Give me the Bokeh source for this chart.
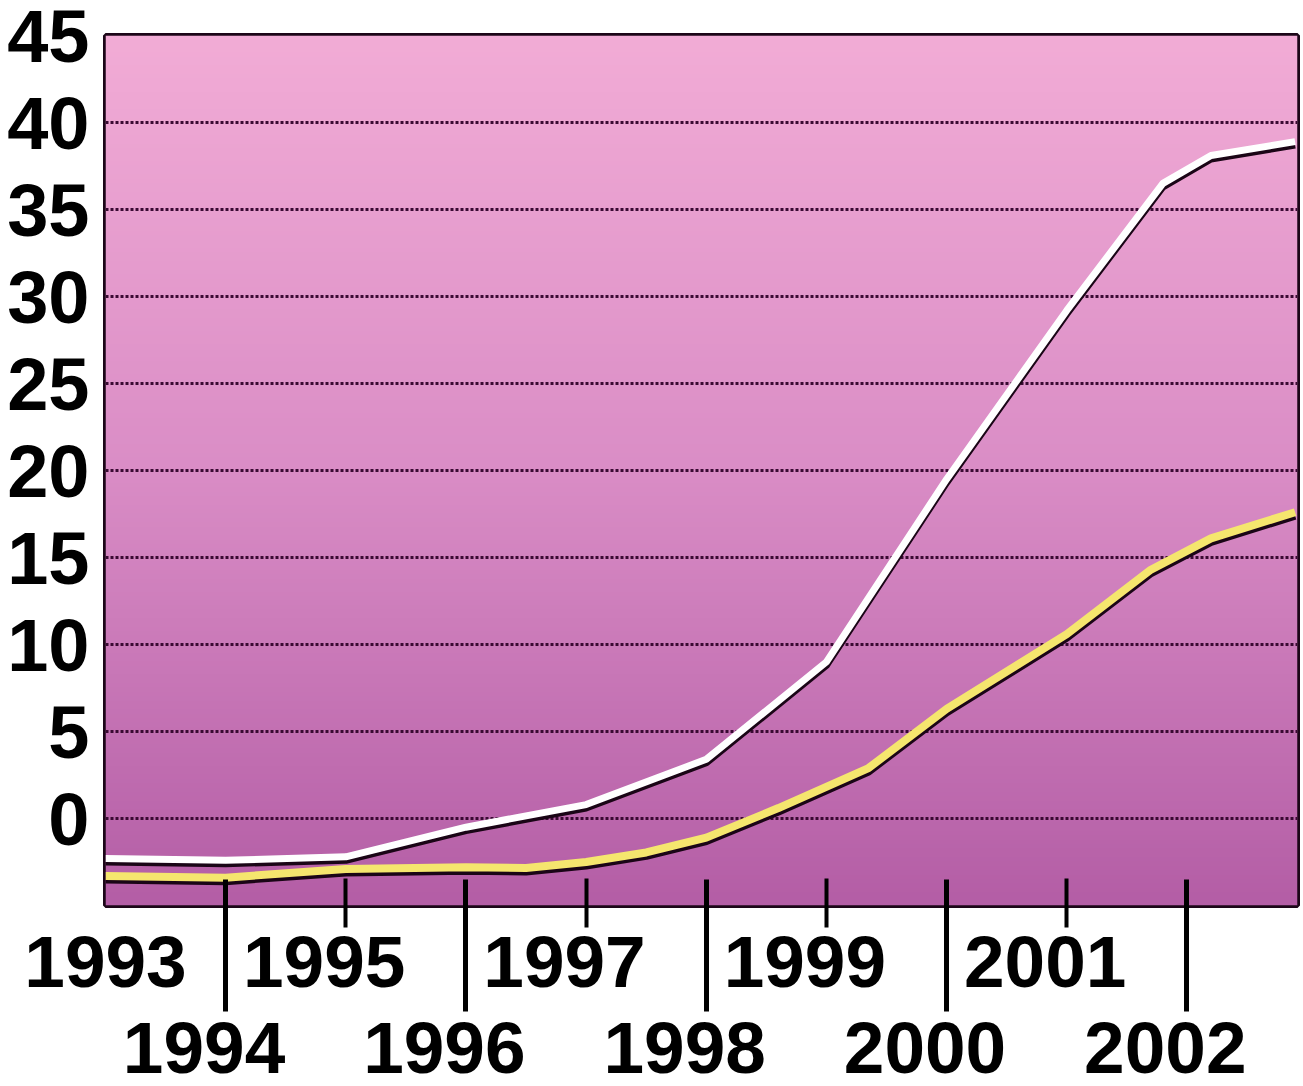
import numpy as np
from bokeh.plotting import figure
from bokeh.models import (FixedTicker, ColumnDataSource, Range1d, LinearAxis,
                          CustomJSTickFormatter)
from bokeh.embed import file_html
from bokeh.resources import INLINE

# ---- data ----
white_years = [1993, 1994, 1995, 1996, 1997, 1998, 1999, 2000, 2001, 2001.8, 2002.2, 2002.9]
white_vals = [-2.3, -2.4, -2.2, -0.5, 0.8, 3.4, 9.0, 19.5, 29.2, 36.5, 38.1, 38.9]

yellow_years = [1993, 1994, 1995, 1996, 1996.5, 1997, 1997.5, 1998, 1998.6, 1999.35,
                2000, 2001, 2001.7, 2002.2, 2002.9]
yellow_vals = [-3.3, -3.4, -2.9, -2.8, -2.85, -2.5, -1.95, -1.1, 0.6, 2.9,
               6.3, 10.6, 14.3, 16.1, 17.6]

y_ticks = [0, 5, 10, 15, 20, 25, 30, 35, 40, 45]
odd_years = [1993, 1995, 1997, 1999, 2001]
even_years = [1994, 1996, 1998, 2000, 2002]

X0, X1 = 1993, 2002.92
Y0, Y1 = -5, 45
FONT = "Liberation Sans"
LABEL_SHIFT = 0.18  # year labels sit slightly left of their ticks

p = figure(width=1303, height=1086, output_backend="svg", toolbar_location=None,
           x_range=Range1d(X0, X1), y_range=Range1d(Y0, Y1),
           min_border_left=105, min_border_right=6, min_border_top=35, min_border_bottom=181)
p.background_fill_color = "white"
p.border_fill_color = "white"
p.outline_line_color = "#1c0618"
p.outline_line_width = 5

# gradient background
n = 200
t = np.linspace(0, 1, n)
stops_t = [0.0, 0.5, 1.0]
stops_c = np.array([[180, 94, 166], [218, 141, 198], [242, 172, 214]], dtype=float)
rgb = np.stack([np.interp(t, stops_t, stops_c[:, k]) for k in range(3)], axis=1)
img = np.zeros((n, 2), dtype=np.uint32)
view = img.view(dtype=np.uint8).reshape((n, 2, 4))
for i in range(n):
    view[i, :, 0] = int(rgb[i, 0])
    view[i, :, 1] = int(rgb[i, 1])
    view[i, :, 2] = int(rgb[i, 2])
    view[i, :, 3] = 255
p.image_rgba(image=[img], x=X0, y=Y0, dw=X1 - X0, dh=Y1 - Y0, level="image")

# grid
p.xgrid.visible = False
p.ygrid.ticker = FixedTicker(ticks=y_ticks)
p.ygrid.grid_line_color = "#3a0a33"
p.ygrid.grid_line_width = 3
p.ygrid.grid_line_dash = "3 2"
p.ygrid.level = "underlay"

# lines with dark shadow beneath
ws = ColumnDataSource(dict(x=white_years, y=white_vals, ys=[v - 0.2 for v in white_vals]))
ys_ = ColumnDataSource(dict(x=yellow_years, y=yellow_vals, ys=[v - 0.2 for v in yellow_vals]))
p.line("x", "ys", source=ws, line_color="#1a0516", line_width=7, line_join="round")
p.line("x", "y", source=ws, line_color="#ffffff", line_width=7, line_join="round")
p.line("x", "ys", source=ys_, line_color="#1a0516", line_width=8, line_join="round")
p.line("x", "y", source=ys_, line_color="#f5e66e", line_width=8, line_join="round")

# y axis
p.yaxis.ticker = FixedTicker(ticks=y_ticks)
p.yaxis.axis_line_color = None
p.yaxis.major_tick_line_color = None
p.yaxis.minor_tick_line_color = None
p.yaxis.major_label_text_font = FONT
p.yaxis.major_label_text_font_style = "bold"
p.yaxis.major_label_text_font_size = "74px"
p.yaxis.major_label_text_color = "black"
p.yaxis.major_label_standoff = 10

year_fmt = CustomJSTickFormatter(code="return Math.round(tick + 0.3).toFixed(0);")

# x axis 1: odd-year labels (major, no tick line) + short ticks (minor)
odd_label_pos = [odd_years[0]] + [y - LABEL_SHIFT for y in odd_years[1:]]
ax1 = p.xaxis[0]
ax1.ticker = FixedTicker(ticks=odd_label_pos, minor_ticks=odd_years[1:])
ax1.formatter = year_fmt
ax1.axis_line_color = None
ax1.major_tick_line_color = None
ax1.major_tick_in = 0
ax1.major_tick_out = 0
ax1.minor_tick_in = 27
ax1.minor_tick_out = 22
ax1.minor_tick_line_width = 4
ax1.minor_tick_line_color = "black"
ax1.major_label_standoff = 9
ax1.major_label_text_font = FONT
ax1.major_label_text_font_style = "bold"
ax1.major_label_text_font_size = "73px"
ax1.major_label_text_color = "black"

# x axis 2: even-year labels + long ticks reaching up into the plot
even_label_pos = [y - LABEL_SHIFT for y in even_years]
ax2 = LinearAxis(ticker=FixedTicker(ticks=even_label_pos, minor_ticks=even_years),
                 formatter=year_fmt)
ax2.axis_line_color = None
ax2.major_tick_line_color = None
ax2.major_tick_in = 0
ax2.major_tick_out = 0
ax2.minor_tick_in = 110
ax2.minor_tick_out = 22
ax2.minor_tick_line_width = 5
ax2.minor_tick_line_color = "black"
ax2.major_label_standoff = 11
ax2.major_label_text_font = FONT
ax2.major_label_text_font_style = "bold"
ax2.major_label_text_font_size = "73px"
ax2.major_label_text_color = "black"
p.add_layout(ax2, "below")

open("out.html", "w").write(file_html(p, INLINE))
